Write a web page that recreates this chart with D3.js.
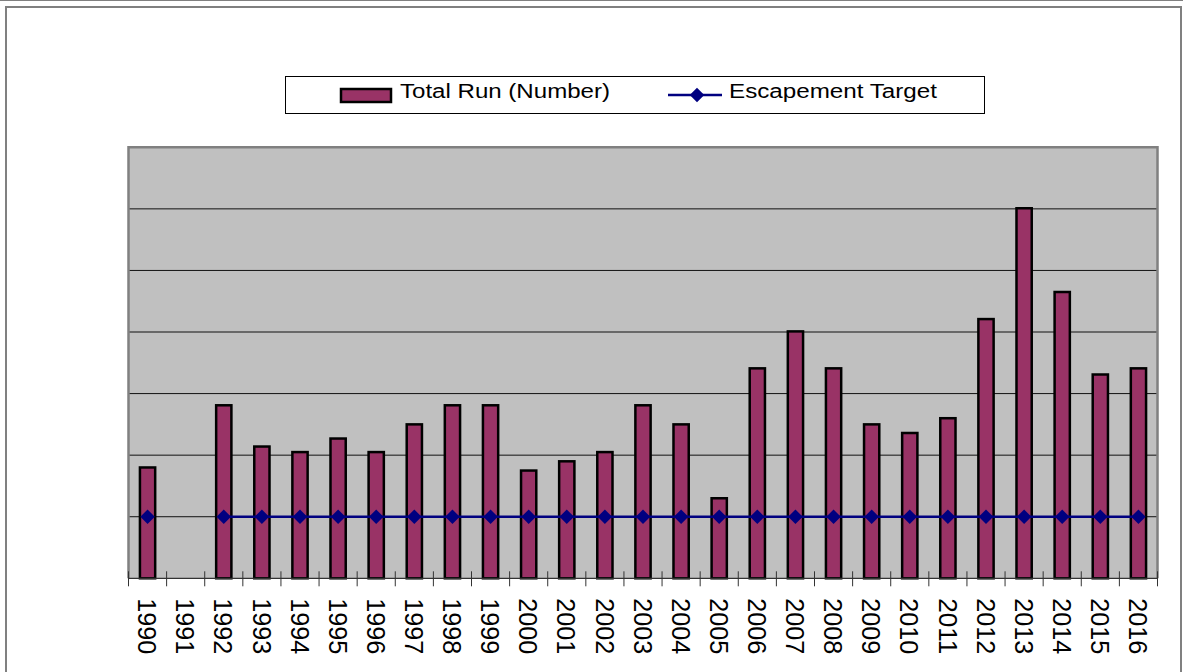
<!DOCTYPE html>
<html>
<head>
<meta charset="utf-8">
<script src="https://cdn.jsdelivr.net/npm/d3@7"></script>
<style>
  body { margin: 0; background: #fff; }
  svg { display: block; font-family: "Liberation Sans", Arial, sans-serif; }
</style>
</head>
<body>
<div id="chart"></div>
<script>
// years on the category axis
var years = ['1990', '1991', '1992', '1993', '1994', '1995', '1996', '1997', '1998',
             '1999', '2000', '2001', '2002', '2003', '2004', '2005', '2006', '2007',
             '2008', '2009', '2010', '2011', '2012', '2013', '2014', '2015', '2016'];

// total run (number); no value for 1991
var total_run = [1800, null, 2810, 2140, 2050, 2270, 2050, 2500, 2810,
                 2810, 1750, 1900, 2050, 2810, 2500, 1300, 3410, 4010,
                 3410, 2500, 2360, 2600, 4210, 6010, 4650, 3310, 3410];

// escapement target, same for every year it was set
var escapement_target = [1000, null, 1000, 1000, 1000, 1000, 1000, 1000, 1000,
                         1000, 1000, 1000, 1000, 1000, 1000, 1000, 1000, 1000,
                         1000, 1000, 1000, 1000, 1000, 1000, 1000, 1000, 1000];

var grid_values = [1000, 2000, 3000, 4000, 5000, 6000];

var series_names = ['Total Run (Number)', 'Escapement Target'];

// chart params
var width  = 1183;
var height = 672;
var plot   = { left: 128.5, right: 1157.5, top: 147.3, bottom: 578.3 };

var bar_color    = '#993366';
var target_color = '#000080';
var plot_color   = '#c0c0c0';
var frame_color  = '#808080';

var svg = d3.select('#chart')
    .append('svg')
    .attr('width', width)
    .attr('height', height);

// outer frame
svg.append('line')
    .attr('x1', 0).attr('x2', width)
    .attr('y1', 0.5).attr('y2', 0.5)
    .attr('stroke', frame_color).attr('stroke-width', 1);

svg.append('rect')
    .attr('x', 6).attr('y', 7)
    .attr('width', 1175).attr('height', 700)
    .attr('fill', 'none')
    .attr('stroke', frame_color).attr('stroke-width', 2);

// scales
var x_scale = d3.scaleBand()
    .domain(years)
    .range([plot.left, plot.right]);

var y_scale = d3.scaleLinear()
    .domain([0, 7000])
    .range([plot.bottom, plot.top]);

// plot area
svg.append('rect')
    .attr('x', plot.left).attr('y', plot.top)
    .attr('width', plot.right - plot.left)
    .attr('height', plot.bottom - plot.top)
    .attr('fill', plot_color);

// gridlines
svg.append('g')
    .selectAll('line')
    .data(grid_values)
    .enter()
    .append('line')
    .attr('x1', plot.left).attr('x2', plot.right)
    .attr('y1', function(d) { return y_scale(d); })
    .attr('y2', function(d) { return y_scale(d); })
    .attr('stroke', '#111')
    .attr('stroke-width', 1);

// plot border (top, left, right)
svg.append('path')
    .attr('d', 'M' + plot.left + ',' + plot.bottom + 'V' + plot.top + 'H' + plot.right + 'V' + plot.bottom)
    .attr('fill', 'none')
    .attr('stroke', frame_color)
    .attr('stroke-width', 2.5);

// bars
var bar_width = x_scale.bandwidth() * 0.4;
svg.append('g')
    .selectAll('rect')
    .data(years.map(function(y, i) { return { year: y, value: total_run[i] }; })
        .filter(function(d) { return d.value != null; }))
    .enter()
    .append('rect')
    .attr('x', function(d) { return x_scale(d.year) + (x_scale.bandwidth() - bar_width) / 2; })
    .attr('y', function(d) { return y_scale(d.value); })
    .attr('width', bar_width)
    .attr('height', function(d) { return y_scale(0) - y_scale(d.value); })
    .attr('fill', bar_color)
    .attr('stroke', '#000')
    .attr('stroke-width', 2.5);

// category axis line and cross ticks at the band edges
svg.append('line')
    .attr('x1', plot.left).attr('x2', plot.right)
    .attr('y1', plot.bottom).attr('y2', plot.bottom)
    .attr('stroke', '#333').attr('stroke-width', 1.2);

var tick_positions = years.map(function(y) { return x_scale(y); }).concat([plot.right]);
svg.append('g')
    .selectAll('line')
    .data(tick_positions)
    .enter()
    .append('line')
    .attr('x1', function(d) { return d; })
    .attr('x2', function(d) { return d; })
    .attr('y1', plot.bottom - 7)
    .attr('y2', plot.bottom + 8)
    .attr('stroke', '#333')
    .attr('stroke-width', 1);

// category labels, turned to read top to bottom
var x_axis = d3.axisBottom(x_scale).tickSize(0).tickPadding(0);
var axis_g = svg.append('g')
    .attr('transform', 'translate(0,' + (plot.bottom + 20) + ')')
    .call(x_axis);
axis_g.select('.domain').remove();
axis_g.selectAll('text')
    .attr('transform', 'rotate(90)')
    .attr('x', 0)
    .attr('y', 0)
    .attr('dy', '0.36em')
    .attr('text-anchor', 'start')
    .attr('font-size', 26)
    .attr('font-family', '"Liberation Sans", Arial, sans-serif')
    .attr('fill', '#000')
    .attr('textLength', 56)
    .attr('lengthAdjust', 'spacingAndGlyphs');

// escapement target line, broken where there is no target
var target_points = years.map(function(y, i) { return { year: y, value: escapement_target[i] }; });
var line = d3.line()
    .defined(function(d) { return d.value != null; })
    .x(function(d) { return x_scale(d.year) + x_scale.bandwidth() / 2; })
    .y(function(d) { return y_scale(d.value); });

svg.append('path')
    .datum(target_points)
    .attr('d', line)
    .attr('fill', 'none')
    .attr('stroke', target_color)
    .attr('stroke-width', 2.3);

var diamond = d3.symbol().type(d3.symbolSquare).size(105);
svg.append('g')
    .selectAll('path')
    .data(target_points.filter(function(d) { return d.value != null; }))
    .enter()
    .append('path')
    .attr('d', diamond)
    .attr('transform', function(d) {
        return 'translate(' + (x_scale(d.year) + x_scale.bandwidth() / 2) + ',' + y_scale(d.value) + ') rotate(45)';
    })
    .attr('fill', target_color);

// legend
var legend = svg.append('g');
legend.append('rect')
    .attr('x', 285.5).attr('y', 76.5)
    .attr('width', 699).attr('height', 37)
    .attr('fill', '#fff')
    .attr('stroke', '#000').attr('stroke-width', 1);

legend.append('rect')
    .attr('x', 341).attr('y', 89)
    .attr('width', 50).attr('height', 13)
    .attr('fill', bar_color)
    .attr('stroke', '#000').attr('stroke-width', 2.5);

legend.append('text')
    .attr('x', 400).attr('y', 98)
    .attr('font-size', 20)
    .attr('textLength', 210)
    .attr('lengthAdjust', 'spacingAndGlyphs')
    .text(series_names[0]);

legend.append('line')
    .attr('x1', 668).attr('x2', 722)
    .attr('y1', 95).attr('y2', 95)
    .attr('stroke', target_color).attr('stroke-width', 2.3);

legend.append('path')
    .attr('d', diamond)
    .attr('transform', 'translate(697,95) rotate(45)')
    .attr('fill', target_color);

legend.append('text')
    .attr('x', 729).attr('y', 98)
    .attr('font-size', 20)
    .attr('textLength', 208)
    .attr('lengthAdjust', 'spacingAndGlyphs')
    .text(series_names[1]);
</script>
</body>
</html>
